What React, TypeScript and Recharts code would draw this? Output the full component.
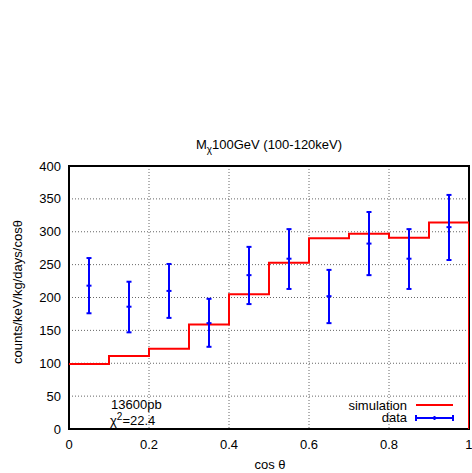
import {
  ComposedChart,
  Line,
  Scatter,
  ErrorBar,
  XAxis,
  YAxis,
  CartesianGrid,
  ReferenceArea
} from 'recharts';

// bin edges of cos theta and the simulated step values per bin
const binEdges = [0, 0.1, 0.2, 0.3, 0.4, 0.5, 0.6, 0.7, 0.8, 0.9, 1.0];
const simulation = [99, 111, 122, 159, 205, 253, 290, 297, 291, 314];

// measured points (bin centres) with asymmetric error bars
const binCenters = [0.05, 0.15, 0.25, 0.35, 0.45, 0.55, 0.65, 0.75, 0.85, 0.95];
const dataValues = [218, 186, 210, 161, 234, 259, 202, 282, 259, 307];
const dataHigh = [260, 224, 251, 198, 277, 304, 242, 330, 304, 356];
const dataLow = [176, 147, 169, 125, 190, 213, 161, 234, 213, 257];

const xTicks = [0, 0.2, 0.4, 0.6, 0.8, 1];
const yTicks = [0, 50, 100, 150, 200, 250, 300, 350, 400];

const FONT = '"Liberation Sans", Arial, Helvetica, sans-serif';
const FS = 13;
const RED = '#ff0000';
const BLUE = '#0000ff';

const stepData = [
  ...simulation.map((v, i) => ({ x: binEdges[i], sim: v })),
  { x: binEdges[binEdges.length - 1], sim: simulation[simulation.length - 1] },
  { x: binEdges[binEdges.length - 1], sim: 0 }
];

const pointData = binCenters.map((x, i) => ({
  x,
  y: dataValues[i],
  err: [dataValues[i] - dataLow[i], dataHigh[i] - dataValues[i]]
}));

// small horizontal dash at each data point (gnuplot point type)
const Dash = (props: any) => {
  const { cx, cy } = props;
  if (cx == null || cy == null) return null;
  return <line x1={cx - 2.5} x2={cx + 2.5} y1={cy} y2={cy} stroke={BLUE} strokeWidth={2} />;
};

const abs = (left: number, top: number): React.CSSProperties => ({
  position: 'absolute',
  left,
  top,
  whiteSpace: 'nowrap',
  fontSize: FS,
  lineHeight: '11px',
  color: '#000'
});

export default function App() {
  return (
    <div style={{ position: 'absolute', left: 0, top: 0, width: 472, height: 473, fontFamily: FONT, background: '#fff' }}>
      <ComposedChart width={472} height={473} margin={{ top: 166, right: 3, bottom: 14, left: 9 }}>
        <CartesianGrid stroke="#666" strokeDasharray="1 2" strokeWidth={1} />
        <XAxis
          dataKey="x"
          type="number"
          domain={[0, 1]}
          ticks={xTicks}
          allowDataOverflow
          height={30}
          axisLine={false}
          tickLine={false}
          tickSize={0}
          tickMargin={11}
          tick={{ fill: '#000', fontSize: FS, fontFamily: FONT }}
        />
        <YAxis
          type="number"
          domain={[0, 400]}
          ticks={yTicks}
          allowDataOverflow
          width={60}
          axisLine={false}
          tickLine={false}
          tickSize={0}
          tickMargin={8}
          tick={{ fill: '#000', fontSize: FS, fontFamily: FONT }}
        />
        <Line
          data={stepData}
          dataKey="sim"
          type="stepAfter"
          stroke={RED}
          strokeWidth={2}
          dot={false}
          activeDot={false}
          isAnimationActive={false}
        />
        <Scatter data={pointData} dataKey="y" shape={<Dash />} isAnimationActive={false}>
          <ErrorBar dataKey="err" direction="y" width={2.5} stroke={BLUE} strokeWidth={2} isAnimationActive={false} />
        </Scatter>
        <ReferenceArea x1={0} x2={1} y1={0} y2={400} fill="none" stroke="#000" strokeWidth={2} />
      </ComposedChart>

      {/* title */}
      <div style={{ ...abs(269, 139), transform: 'translateX(-50%)' }}>
        M<sub style={{ fontSize: 10, verticalAlign: '-4px' }}>χ</sub>100GeV (100-120keV)
      </div>

      {/* axis titles */}
      <div style={{ ...abs(17, 292), transform: 'translate(-50%, -50%) rotate(-90deg)' }}>
        counts/keV/kg/days/cosθ
      </div>
      <div style={{ ...abs(270, 464), transform: 'translate(-50%, -50%)' }}>cos θ</div>

      {/* annotations */}
      <div style={abs(111, 399)}>13600pb</div>
      <div style={abs(110, 412)}>
        χ<sup style={{ fontSize: 10, verticalAlign: '5px', lineHeight: '9px' }}>2</sup>=22.4
      </div>

      {/* key */}
      <div style={{ ...abs(300, 400), width: 107, textAlign: 'right' }}>simulation</div>
      <div style={{ ...abs(300, 412), width: 107, textAlign: 'right' }}>data</div>
      <svg style={{ position: 'absolute', left: 414, top: 398 }} width={44} height={26}>
        <line x1={2} x2={39} y1={7} y2={7} stroke={RED} strokeWidth={2} />
        <line x1={2} x2={39} y1={20} y2={20} stroke={BLUE} strokeWidth={2} />
        <line x1={2} x2={2} y1={17} y2={23} stroke={BLUE} strokeWidth={2} />
        <line x1={39} x2={39} y1={17} y2={23} stroke={BLUE} strokeWidth={2} />
        <line x1={20.5} x2={20.5} y1={18} y2={22} stroke={BLUE} strokeWidth={2} />
      </svg>
    </div>
  );
}
